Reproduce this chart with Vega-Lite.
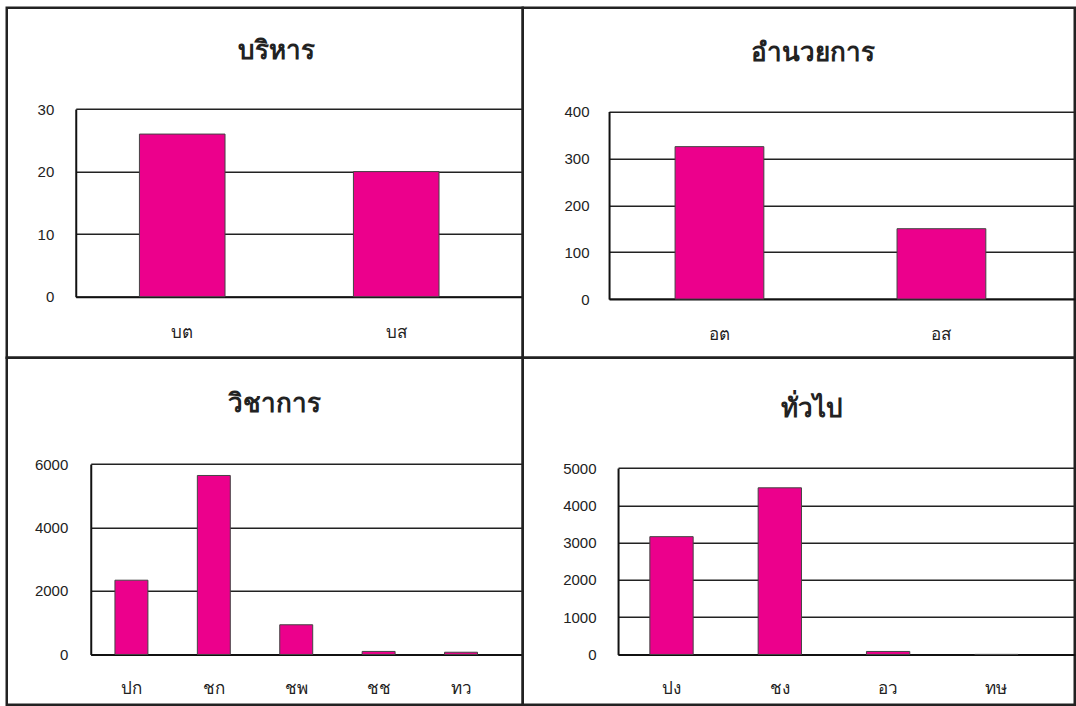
{
  "$schema": "https://vega.github.io/schema/vega-lite/v6.json",
  "padding": {"left": 4.75, "top": 5.75, "right": 0, "bottom": 0},
  "background": "white",
  "columns": 2,
  "spacing": 0,
  "align": "each",
  "bounds": "flush",
  "config": {
    "font": "Liberation Sans",
    "view": {"stroke": "#222222", "strokeWidth": 2.5},
    "axis": {
      "ticks": false,
      "tickSize": 0,
      "domainColor": "#111111",
      "domainWidth": 2,
      "gridColor": "#222222",
      "gridWidth": 1.6,
      "gridOpacity": 1,
      "labelFont": "Liberation Sans",
      "labelFontSize": 15,
      "labelColor": "#222222",
      "title": null
    },
    "axisX": {"labelAngle": 0, "labelFontSize": 17, "labelBaseline": "middle", "grid": false},
    "axisY": {"labelAlign": "right", "labelBaseline": "middle", "format": "d"},
    "title": {"fontSize": 26, "fontWeight": "bold", "color": "#222222", "anchor": "middle", "frame": "group", "baseline": "alphabetic"},
    "bar": {"fill": "#EC008C", "stroke": "#444444", "strokeWidth": 1}
  },
  "concat": [
    {
      "width": 516,
      "height": 350,
      "title": {"text": "บริหาร", "offset": -56, "dx": 12},
      "data": {"values": [{"cat": "บต", "value": 26}, {"cat": "บส", "value": 20}]},
      "mark": "bar",
      "encoding": {
        "x": {"field": "cat", "type": "nominal", "sort": null,
          "scale": {"range": [69, 516], "paddingInner": 0.6, "paddingOuter": 0.3444, "align": 0.432},
          "axis": {"offset": -61, "labelPadding": 36}},
        "y": {"field": "value", "type": "quantitative",
          "scale": {"domain": [0, 30], "range": [289, 101.3], "nice": false, "zero": true},
          "axis": {"values": [0, 10, 20, 30], "format": "d", "offset": -69, "labelPadding": 22}}
      }
    },
    {
      "width": 552,
      "height": 350,
      "title": {"text": "อำนวยการ", "offset": -58, "dx": 14.7},
      "data": {"values": [{"cat": "อต", "value": 325}, {"cat": "อส", "value": 150}]},
      "mark": "bar",
      "encoding": {
        "x": {"field": "cat", "type": "nominal", "sort": null,
          "scale": {"range": [86.3, 552], "paddingInner": 0.6, "paddingOuter": 0.349, "align": 0.4261},
          "axis": {"offset": -58.7, "labelPadding": 35}},
        "y": {"field": "value", "type": "quantitative",
          "scale": {"domain": [0, 400], "range": [291.3, 103.7], "nice": false, "zero": true},
          "axis": {"values": [0, 100, 200, 300, 400], "format": "d", "offset": -86.3, "labelPadding": 20}}
      }
    },
    {
      "width": 516,
      "height": 347,
      "title": {"text": "วิชาการ", "offset": -59, "dx": 9.3},
      "data": {"values": [
        {"cat": "ปก", "value": 2340},
        {"cat": "ชก", "value": 5640},
        {"cat": "ชพ", "value": 935},
        {"cat": "ชช", "value": 95},
        {"cat": "ทว", "value": 70}
      ]},
      "mark": "bar",
      "encoding": {
        "x": {"field": "cat", "type": "nominal", "sort": null,
          "scale": {"range": [84, 516], "paddingInner": 0.6, "paddingOuter": 0.4214, "align": 0.3485},
          "axis": {"offset": -50.3, "labelPadding": 33.6}},
        "y": {"field": "value", "type": "quantitative",
          "scale": {"domain": [0, 6000], "range": [296.7, 106.3], "nice": false, "zero": true},
          "axis": {"values": [0, 2000, 4000, 6000], "format": "d", "offset": -84, "labelPadding": 23}}
      }
    },
    {
      "width": 552,
      "height": 347,
      "title": {"text": "ทั่วไป", "offset": -64, "dx": 13},
      "data": {"values": [
        {"cat": "ปง", "value": 3160},
        {"cat": "ชง", "value": 4470},
        {"cat": "อว", "value": 80},
        {"cat": "ทษ", "value": 0}
      ]},
      "mark": "bar",
      "encoding": {
        "x": {"field": "cat", "type": "nominal", "sort": null,
          "scale": {"range": [95.3, 552], "paddingInner": 0.6, "paddingOuter": 0.4085, "align": 0.3594},
          "axis": {"offset": -50.3, "labelPadding": 33.6}},
        "y": {"field": "value", "type": "quantitative",
          "scale": {"domain": [0, 5000], "range": [296.7, 110.3], "nice": false, "zero": true},
          "axis": {"values": [0, 1000, 2000, 3000, 4000, 5000], "format": "d", "offset": -95.3, "labelPadding": 22}}
      }
    }
  ]
}
